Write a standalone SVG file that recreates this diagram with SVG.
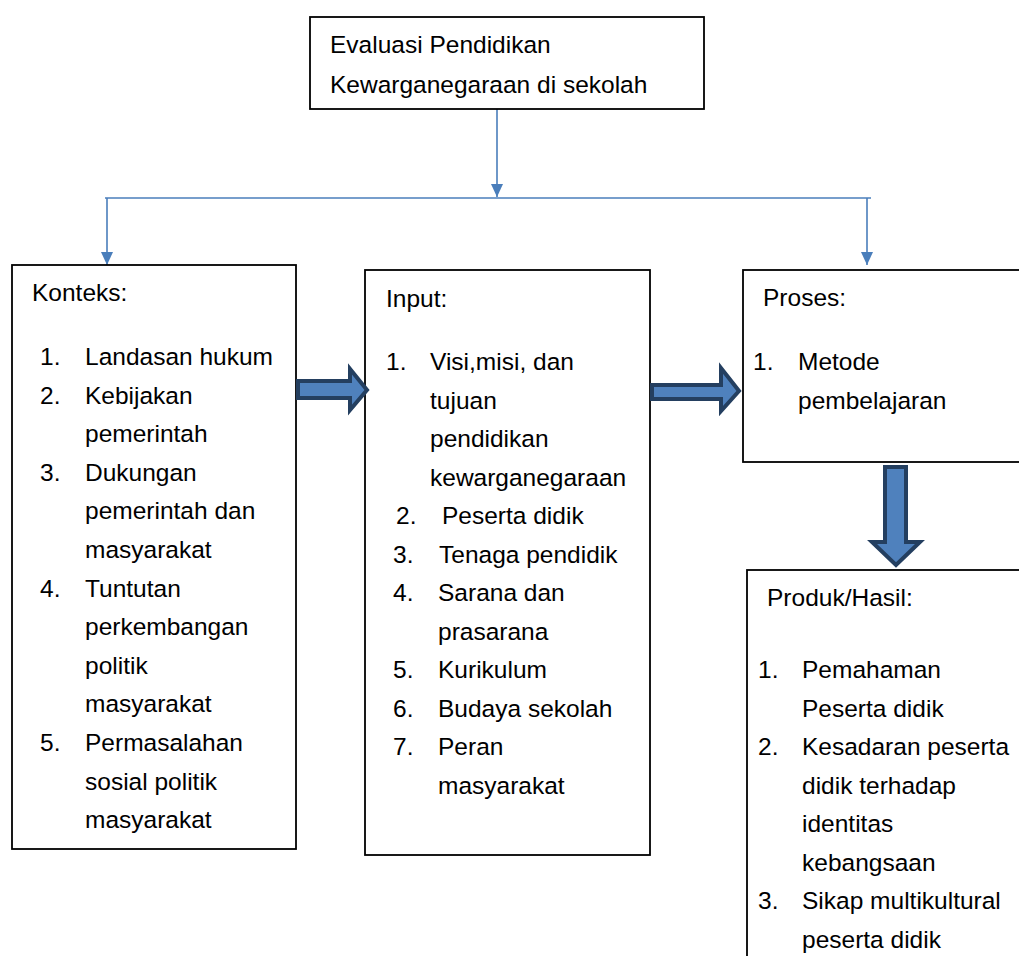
<svg xmlns="http://www.w3.org/2000/svg" width="1019" height="956" viewBox="0 0 1019 956">
<style>
.box{fill:#fff;stroke:#000;stroke-width:1.8}
.t{font-family:"Liberation Sans",Arial,sans-serif;font-size:24.5px;fill:#000}
.c{fill:none;stroke:#4a7ebb;stroke-width:1.6}
.blk{fill:#4f81bd;stroke:#243f60;stroke-width:4;stroke-linejoin:miter}
</style>
<defs>
<marker id="ah" markerWidth="12" markerHeight="13" refX="6" refY="13" orient="0" markerUnits="userSpaceOnUse" viewBox="0 0 12 13">
<path d="M0,0 L12,0 L6,13 Z" fill="#4a7ebb"/>
</marker>
</defs>
<rect width="1019" height="956" fill="#fff"/>

<g id="connectors">
<path class="c" d="M497,109 V197" marker-end="url(#ah)"/>
<path class="c" d="M105,198 H871"/>
<path class="c" d="M107,198 V265" marker-end="url(#ah)"/>
<path class="c" d="M867,198 V265" marker-end="url(#ah)"/>
</g>

<g id="evaluasi">
<rect class="box" x="310" y="17" width="394" height="92"/>
<text class="t" x="330" y="53">Evaluasi Pendidikan</text>
<text class="t" x="330" y="93">Kewarganegaraan di sekolah</text>
</g>

<g id="konteks">
<rect class="box" x="12" y="265" width="284" height="584"/>
<text class="t" x="32" y="301">Konteks:</text>
<text class="t" x="40" y="365">1.</text><text class="t" x="85" y="365">Landasan hukum</text>
<text class="t" x="40" y="403.6">2.</text><text class="t" x="85" y="403.6">Kebijakan</text>
<text class="t" x="85" y="442.2">pemerintah</text>
<text class="t" x="40" y="480.8">3.</text><text class="t" x="85" y="480.8">Dukungan</text>
<text class="t" x="85" y="519.4">pemerintah dan</text>
<text class="t" x="85" y="558">masyarakat</text>
<text class="t" x="40" y="596.6">4.</text><text class="t" x="85" y="596.6">Tuntutan</text>
<text class="t" x="85" y="635.2">perkembangan</text>
<text class="t" x="85" y="673.8">politik</text>
<text class="t" x="85" y="712.4">masyarakat</text>
<text class="t" x="40" y="751">5.</text><text class="t" x="85" y="751">Permasalahan</text>
<text class="t" x="85" y="789.6">sosial politik</text>
<text class="t" x="85" y="828.2">masyarakat</text>
</g>

<g id="input">
<rect class="box" x="365" y="270" width="285" height="585"/>
<text class="t" x="386" y="307">Input:</text>
<text class="t" x="386" y="370">1.</text><text class="t" x="430" y="370">Visi,misi, dan</text>
<text class="t" x="430" y="408.5">tujuan</text>
<text class="t" x="430" y="447">pendidikan</text>
<text class="t" x="430" y="485.5">kewarganegaraan</text>
<text class="t" x="396" y="524">2.</text><text class="t" x="442" y="524">Peserta didik</text>
<text class="t" x="393" y="562.5">3.</text><text class="t" x="439" y="562.5">Tenaga pendidik</text>
<text class="t" x="393" y="601">4.</text><text class="t" x="438" y="601">Sarana dan</text>
<text class="t" x="438" y="639.5">prasarana</text>
<text class="t" x="393" y="678">5.</text><text class="t" x="438" y="678">Kurikulum</text>
<text class="t" x="393" y="716.5">6.</text><text class="t" x="438" y="716.5">Budaya sekolah</text>
<text class="t" x="393" y="755">7.</text><text class="t" x="438" y="755">Peran</text>
<text class="t" x="438" y="793.5">masyarakat</text>
</g>

<g id="proses">
<rect class="box" x="743" y="270" width="290" height="192"/>
<text class="t" x="763" y="306">Proses:</text>
<text class="t" x="753" y="370">1.</text><text class="t" x="798" y="370">Metode</text>
<text class="t" x="798" y="408.5">pembelajaran</text>
</g>

<g id="produk">
<rect class="box" x="747" y="570" width="290" height="400"/>
<text class="t" x="767" y="606">Produk/Hasil:</text>
<text class="t" x="758" y="678">1.</text><text class="t" x="802" y="678">Pemahaman</text>
<text class="t" x="802" y="716.5">Peserta didik</text>
<text class="t" x="758" y="755">2.</text><text class="t" x="802" y="755">Kesadaran peserta</text>
<text class="t" x="802" y="793.5">didik terhadap</text>
<text class="t" x="802" y="832">identitas</text>
<text class="t" x="802" y="870.5">kebangsaan</text>
<text class="t" x="758" y="909">3.</text><text class="t" x="802" y="909">Sikap multikultural</text>
<text class="t" x="802" y="947.5">peserta didik</text>
</g>

<g id="block-arrows">
<path class="blk" d="M298,381 H350 V369 L367,390 L350,410 V398 H298 Z"/>
<path class="blk" d="M652,385 H721 V368 L739,391 L721,411 V399 H652 Z"/>
<path class="blk" d="M885,467 H906 V542 H920 L896,565 L872,542 H885 Z"/>
</g>
</svg>
